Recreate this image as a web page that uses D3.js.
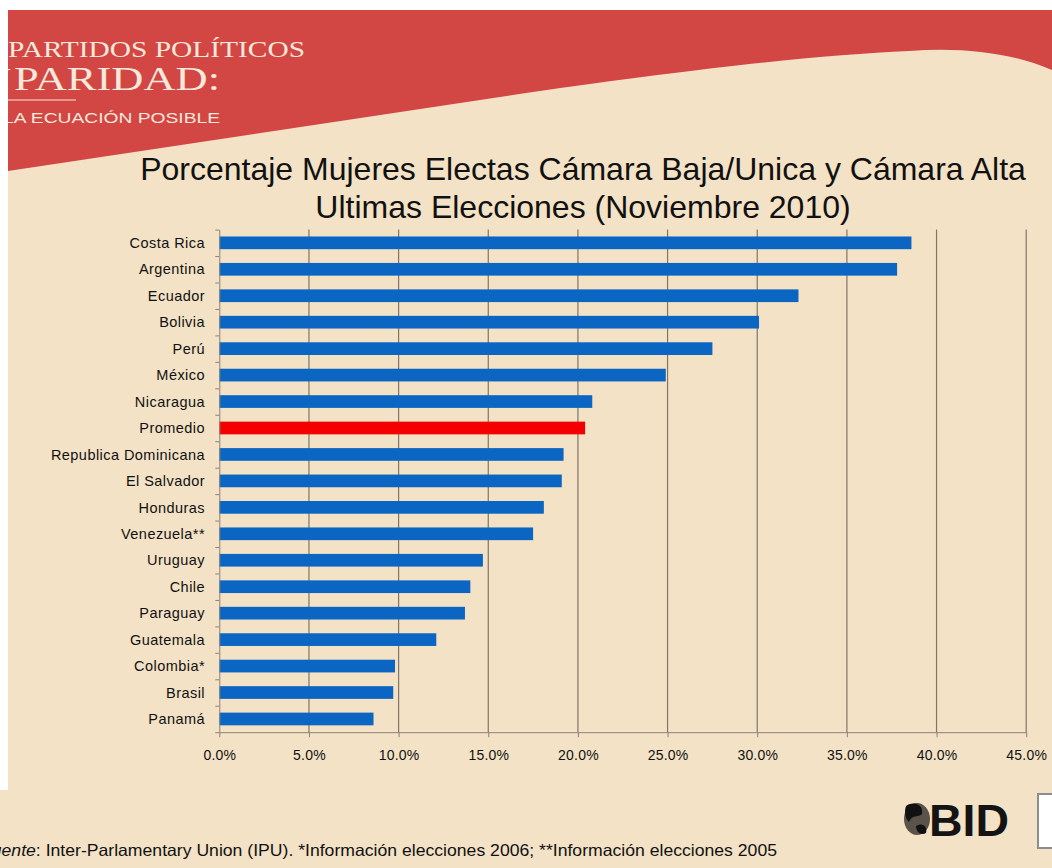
<!DOCTYPE html>
<html>
<head>
<meta charset="utf-8">
<script src="https://cdn.jsdelivr.net/npm/d3@7"></script>
<style>
  body { margin: 0; background: #fff; }
  svg { display: block; font-family: "Liberation Sans", Arial, sans-serif; }
</style>
</head>
<body>
<svg id="chart" width="1052" height="868"></svg>
<script>
// data
var countries = ["Costa Rica", "Argentina", "Ecuador", "Bolivia", "Perú", "México", "Nicaragua",
  "Promedio", "Republica Dominicana", "El Salvador", "Honduras", "Venezuela**", "Uruguay",
  "Chile", "Paraguay", "Guatemala", "Colombia*", "Brasil", "Panamá"];
var values = [38.6, 37.8, 32.3, 30.1, 27.5, 24.9, 20.8,
  20.4, 19.2, 19.1, 18.1, 17.5, 14.7,
  14.0, 13.7, 12.1, 9.8, 9.7, 8.6];
var tickValues = [0, 5, 10, 15, 20, 25, 30, 35, 40, 45];
var titleLines = ["Porcentaje Mujeres Electas Cámara Baja/Unica y Cámara Alta",
  "Ultimas Elecciones (Noviembre 2010)"];

var rows = countries.map(function(c, i) { return {country: c, value: values[i]}; });

var svg = d3.select("#chart");

// background + red header wave
svg.append("rect").attr("width", 1052).attr("height", 868).attr("fill", "#f3e2c6");
svg.append("path")
  .attr("d", "M8,10 H1052 V70 C1010,52 960,47 909,51 C820,55 700,68 526,93 L8,171 Z")
  .attr("fill", "#d24643");

var serif = "'Liberation Serif', 'DejaVu Serif', serif";
var head = svg.append("g").attr("fill", "#f7e8dc");
head.append("text").attr("x", 8).attr("y", 57)
  .attr("font-family", serif).attr("font-size", 23)
  .attr("textLength", 297).attr("lengthAdjust", "spacingAndGlyphs")
  .text("PARTIDOS POLÍTICOS");
head.append("text").attr("x", -12).attr("y", 90)
  .attr("font-family", serif).attr("font-size", 32)
  .text("Y");
head.append("text").attr("x", 14).attr("y", 90)
  .attr("font-family", serif).attr("font-size", 33)
  .attr("textLength", 206).attr("lengthAdjust", "spacingAndGlyphs")
  .text("PARIDAD:");
head.append("line").attr("x1", 8).attr("x2", 76).attr("y1", 100).attr("y2", 100)
  .attr("stroke", "#f7e8dc").attr("stroke-width", 1);
head.append("text").attr("x", 3).attr("y", 123)
  .attr("font-size", 15).attr("textLength", 217).attr("lengthAdjust", "spacingAndGlyphs")
  .text("LA ECUACIÓN POSIBLE");

// white margins
svg.append("rect").attr("width", 1052).attr("height", 10).attr("fill", "#fff");
svg.append("rect").attr("width", 8).attr("height", 790).attr("fill", "#fff");

// title
svg.append("g").selectAll("text").data(titleLines).enter().append("text")
  .attr("x", 583).attr("y", function(d, i) { return 180 + i * 38; })
  .attr("text-anchor", "middle").attr("font-size", 32).attr("fill", "#111")
  .text(function(d) { return d; });

// scales
var yTop = 229.6, yBottom = 732.2;
var x = d3.scaleLinear().domain([0, 45]).range([219.3, 1026.2]);
var y = d3.scaleBand().domain(countries).range([yTop, yBottom])
  .paddingInner(0.52).paddingOuter(0.26);

// gridlines
svg.append("g").selectAll("line").data(tickValues.slice(1)).enter().append("line")
  .attr("x1", function(d) { return x(d); }).attr("x2", function(d) { return x(d); })
  .attr("y1", yTop).attr("y2", yBottom)
  .attr("stroke", "#7f7668").attr("stroke-width", 1.2);

// bars
svg.append("g").selectAll("rect").data(rows).enter().append("rect")
  .attr("x", x(0))
  .attr("y", function(d) { return y(d.country); })
  .attr("width", function(d) { return x(d.value) - x(0); })
  .attr("height", y.bandwidth())
  .attr("fill", function(d) { return d.country == "Promedio" ? "#f40000" : "#0a66c2"; });

// bottom axis
var xAxis = svg.append("g").attr("transform", "translate(0," + yBottom + ")")
  .call(d3.axisBottom(x).tickValues(tickValues).tickSizeInner(5).tickSizeOuter(0)
    .tickFormat(function(d) { return d3.format(".1f")(d) + "%"; }));
xAxis.select(".domain").attr("stroke", "#8a8378");
xAxis.selectAll(".tick line").attr("stroke", "#8a8378");
xAxis.selectAll(".tick text").attr("font-size", 14).attr("fill", "#111")
  .attr("letter-spacing", 0.2)
  .attr("font-family", "'Liberation Sans', Arial, sans-serif").attr("dy", "1.45em");

// left axis, ticks on band boundaries
var yEdge = d3.scaleLinear().domain([0, countries.length]).range([yTop, yBottom]);
var yAxis = svg.append("g").attr("transform", "translate(" + x(0) + ",0)")
  .call(d3.axisLeft(yEdge).ticks(countries.length).tickSizeInner(4).tickSizeOuter(0)
    .tickFormat(""));
yAxis.select(".domain").attr("stroke", "#8a8378");
yAxis.selectAll(".tick line").attr("stroke", "#8a8378");

// category labels
svg.append("g").selectAll("text").data(rows).enter().append("text")
  .attr("x", 205)
  .attr("y", function(d) { return y(d.country) + y.bandwidth() / 2; })
  .attr("dy", "0.36em").attr("text-anchor", "end")
  .attr("font-size", 14.5).attr("letter-spacing", 0.45).attr("fill", "#111")
  .text(function(d) { return d.country; });

// source note
var note = svg.append("text").attr("x", -19).attr("y", 856)
  .attr("font-size", 16.5).attr("fill", "#111")
  .attr("textLength", 796).attr("lengthAdjust", "spacingAndGlyphs");
note.append("tspan").attr("font-style", "italic").text("Fuente");
note.append("tspan").text(": Inter-Parlamentary Union (IPU). *Información elecciones 2006; **Información elecciones 2005");

// BID logo
var logo = svg.append("g");
logo.append("ellipse").attr("cx", 917).attr("cy", 819).attr("rx", 13).attr("ry", 16)
  .attr("fill", "#5a534a");
logo.append("path").attr("d", "M906,806 C915,800 924,806 922,814 C918,818 912,814 909,822 C905,818 904,812 906,806 Z M916,826 C922,822 928,826 926,833 C921,836 916,832 916,826 Z")
  .attr("fill", "#111");
logo.append("text").attr("x", 929).attr("y", 836)
  .attr("font-size", 44).attr("font-weight", "bold").attr("fill", "#141414")
  .attr("textLength", 80).attr("lengthAdjust", "spacingAndGlyphs")
  .text("BID");
logo.append("rect").attr("x", 1038).attr("y", 794).attr("width", 20).attr("height", 54)
  .attr("fill", "#fff").attr("stroke", "#8d8d8d").attr("stroke-width", 2);
</script>
</body>
</html>
